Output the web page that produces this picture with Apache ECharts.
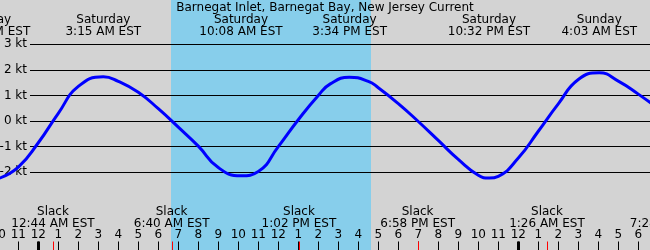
<!DOCTYPE html>
<html><head><meta charset="utf-8">
<script src="https://cdn.jsdelivr.net/npm/echarts@6/dist/echarts.min.js"></script>
<style>html,body{margin:0;padding:0;background:#d3d3d3}#c{width:650px;height:250px}</style>
</head><body><div id="c"></div>
<script>
// ---- data (hours measured from Saturday 00:00 EST) ----
const chartTitle = 'Barnegat Inlet, Barnegat Bay, New Jersey Current';
// current speed (kt): roughly hourly, plus each max flood / max ebb
const curveHours = [-2, -1, 0, 1, 2, 3.25, 4, 5, 6, 7, 8, 9, 10.12, 11, 12, 13, 14, 14.6, 15.55, 16.5, 17, 18, 19, 20, 21, 22, 22.55, 23, 24, 25, 26, 27, 28.05, 29, 30, 31];
const curveKnots = [-2.25, -1.8, -0.85, 0.3, 1.35, 1.73, 1.55, 1.12, 0.48, -0.24, -0.98, -1.82, -2.14, -1.97, -1.0, 0.05, 1.0, 1.45, 1.71, 1.55, 1.3, 0.68, -0.02, -0.76, -1.5, -2.12, -2.23, -2.16, -1.45, -0.4, 0.67, 1.62, 1.88, 1.56, 1.05, 0.48];
const maxHours = [-2.267, 3.25, 10.133, 15.567, 22.533, 28.05];
const maxDays = ['Friday', 'Saturday', 'Saturday', 'Saturday', 'Saturday', 'Sunday'];
const maxTimes = ['9:44 PM EST', '3:15 AM EST', '10:08 AM EST', '3:34 PM EST', '10:32 PM EST', '4:03 AM EST'];
const slackHours = [0.733, 6.667, 13.033, 18.967, 25.433, 31.467];
const slackTimes = ['12:44 AM EST', '6:40 AM EST', '1:02 PM EST', '6:58 PM EST', '1:26 AM EST', '7:28 AM EST'];
const daylightStart = [6.633];
const daylightEnd = [16.633];
const midnightHours = [0, 24];
const hourTickLabels = ['10','11','12','1','2','3','4','5','6','7','8','9','10','11','12','1','2','3','4','5','6','7','8','9','10','11','12','1','2','3','4','5','6','7'];
const ktTickMin = -2, ktTickMax = 3;

const FONT = '12px "DejaVu Sans"';
const chart = echarts.init(document.getElementById('c'), null, {renderer: 'canvas'});

const curveData = curveHours.map((h, i) => [h, curveKnots[i]]);

chart.setOption({
  animation: false,
  backgroundColor: '#d3d3d3',
  title: {
    text: chartTitle, left: 'center', top: 2, padding: 0,
    textStyle: {fontSize: 12, fontWeight: 'normal', fontFamily: 'DejaVu Sans', color: '#000', lineHeight: 12}
  },
  grid: [
    {left: -1.7, right: -8.3, top: 0, bottom: 0, containLabel: false, outerBoundsMode: 'none'},
    {left: 30, right: 0, top: 44.3, height: 128, containLabel: false, outerBoundsMode: 'none'}
  ],
  xAxis: [
    {
      gridIndex: 0, type: 'value', min: -2, max: 31, interval: 1, position: 'bottom',
      axisLine: {show: false, onZero: false},
      axisTick: {show: true, inside: true, length: 8.5, lineStyle: {color: '#000', width: 1}},
      axisLabel: {show: true, inside: true, margin: 9, color: '#000', fontSize: 12, fontFamily: 'DejaVu Sans',
        showMinLabel: true, showMaxLabel: true, hideOverlap: false,
        formatter: v => hourTickLabels[Math.round(v) + 2]},
      splitLine: {show: false}
    },
    {gridIndex: 1, type: 'value', min: 0, max: 1, show: false}
  ],
  yAxis: [
    {gridIndex: 0, type: 'value', min: -5.0391, max: 4.7266, show: false},
    {
      gridIndex: 1, type: 'value', min: ktTickMin, max: ktTickMax, interval: 1,
      axisLine: {show: false}, axisTick: {show: false},
      axisLabel: {margin: 3, color: '#000', fontSize: 12, fontFamily: 'DejaVu Sans', formatter: '{value} kt'},
      splitLine: {show: true, lineStyle: {color: '#000', width: 1}}
    }
  ],
  series: [
    {
      type: 'custom', xAxisIndex: 0, yAxisIndex: 0, z: -1, silent: true,
      data: daylightStart.map((s, i) => [s, daylightEnd[i]]),
      renderItem: (params, api) => {
        const x1 = api.coord([api.value(0), 0])[0];
        const x2 = api.coord([api.value(1), 0])[0];
        return {type: 'rect', shape: {x: Math.round(x1), y: 0, width: Math.round(x2) - Math.round(x1), height: api.getHeight()},
          style: {fill: '#87ceeb'}};
      }
    },
    {
      type: 'line', xAxisIndex: 0, yAxisIndex: 0, data: curveData,
      smooth: 0.5, showSymbol: false, symbol: 'none',
      lineStyle: {color: '#0000ff', width: 3}, z: 5
    },
    {
      type: 'custom', xAxisIndex: 0, yAxisIndex: 0, silent: true, z: 6,
      data: maxHours.map((h, i) => [h, i]),
      renderItem: (params, api) => {
        const x = api.coord([api.value(0), 0])[0];
        const i = api.value(1);
        return {type: 'group', children: [
          {type: 'text', x: x, y: 19.5, style: {text: maxDays[i], font: FONT, fill: '#000', align: 'center', verticalAlign: 'middle'}},
          {type: 'text', x: x, y: 31.5, style: {text: maxTimes[i], font: FONT, fill: '#000', align: 'center', verticalAlign: 'middle'}}
        ]};
      }
    },
    {
      type: 'custom', xAxisIndex: 0, yAxisIndex: 0, silent: true, z: 6,
      data: slackHours.map((h, i) => [h, i]),
      renderItem: (params, api) => {
        const x = api.coord([api.value(0), 0])[0];
        const i = api.value(1);
        const xr = Math.round(x) + 0.5;
        const H = api.getHeight();
        return {type: 'group', children: [
          {type: 'text', x: x, y: 211.8, style: {text: 'Slack', font: FONT, fill: '#000', align: 'center', verticalAlign: 'middle'}},
          {type: 'text', x: x, y: 224.1, style: {text: slackTimes[i], font: FONT, fill: '#000', align: 'center', verticalAlign: 'middle'}},
          {type: 'line', shape: {x1: xr, y1: H - 8.5, x2: xr, y2: H}, style: {stroke: '#ff0000', lineWidth: 1}}
        ]};
      }
    },
    {
      type: 'custom', xAxisIndex: 0, yAxisIndex: 0, silent: true, z: 6,
      data: midnightHours.map(h => [h, 0]),
      renderItem: (params, api) => {
        const x = api.coord([api.value(0), 0])[0];
        const H = api.getHeight();
        return {type: 'rect', shape: {x: Math.round(x) - 1, y: H - 8.5, width: 3, height: 8.5}, style: {fill: '#000'}};
      }
    }
  ]
});
</script>
</body></html>
